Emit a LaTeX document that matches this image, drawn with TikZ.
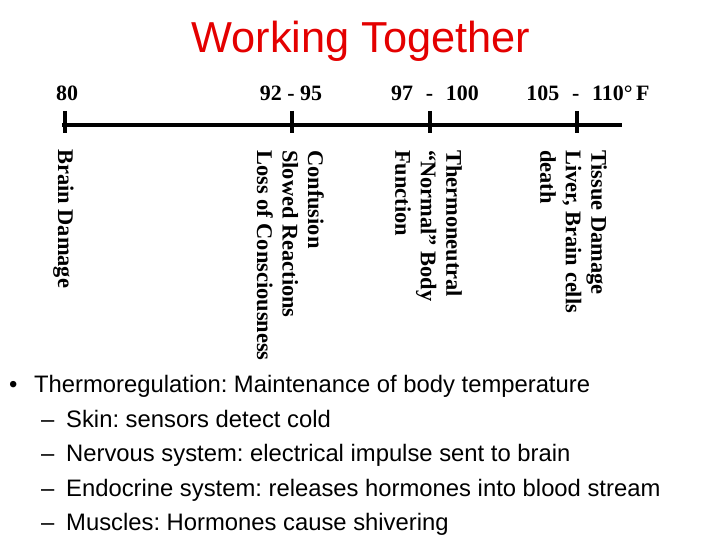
\documentclass[tikz,border=0pt]{standalone}
\usepackage{fontspec}
\setmainfont{Liberation Sans}
\newfontfamily\timesbold[BoldFont={Liberation Serif Bold}]{Liberation Serif}
\frenchspacing
\definecolor{titlered}{RGB}{228,0,0}
\begin{document}
\begin{tikzpicture}[x=1bp,y=-1bp,
  titlestyle/.style={inner sep=0, anchor=base, text=titlered, font=\fontsize{43.5}{48}\selectfont},
  tlabel/.style={inner sep=0, anchor=base, font=\timesbold\bfseries\fontsize{22}{25}\selectfont},
  vtext/.style={inner sep=0, anchor=north west, rotate=-90, align=left, font=\timesbold\bfseries\fontsize{22.5}{25.5}\selectfont},
  axisline/.style={line width=4bp, black},
  tickline/.style={line width=4bp, black},
  bodytext/.style={inner sep=0, anchor=base west, font=\fontsize{23.9}{28}\selectfont}
]
\useasboundingbox (0,0) rectangle (720,540);
\fill[white] (0,0) rectangle (720,540);

\node[titlestyle] (title) at (361,53) {Working Together};

% timeline labels
\node[tlabel] (l80) at (67,101) {80};
\node[tlabel] (l92) at (291,101) {92 - 95};
\node[tlabel] (l97) at (435,101) {97\,\, - \,\,100};
\node[tlabel] (l105) at (588,101) {105\,\, - \,\,110°\,F};

% axis
\coordinate (a0) at (62,125);
\coordinate (a1) at (622,125);
\draw[axisline] (a0) -- (a1);
\coordinate (t1a) at (65,111); \coordinate (t1b) at (65,133);
\coordinate (t2a) at (292,111); \coordinate (t2b) at (292,133);
\coordinate (t3a) at (430,111); \coordinate (t3b) at (430,133);
\coordinate (t4a) at (577,111); \coordinate (t4b) at (577,133);
\draw[tickline] (t1a) -- (t1b);
\draw[tickline] (t2a) -- (t2b);
\draw[tickline] (t3a) -- (t3b);
\draw[tickline] (t4a) -- (t4b);

% rotated descriptions
\node[vtext] (v1) at (74,149) {Brain Damage};
\node[vtext] (v2) at (324,150) {Confusion\\Slowed Reactions\\Loss of Consciousness};
\node[vtext] (v3) at (462,150) {Thermoneutral\\“Normal” Body\\Function};
\node[vtext] (v4) at (607,150) {Tissue Damage\\Liver, Brain cells\\death};

% bullet text
\node[bodytext] (b0) at (9,392) {•};
\node[bodytext] (b1) at (34,392) {Thermoregulation: Maintenance of body temperature};
\node[bodytext] (d2) at (41,427) {–};
\node[bodytext] (b2) at (66,427) {Skin: sensors detect cold};
\node[bodytext] (d3) at (41,461) {–};
\node[bodytext] (b3) at (66,461) {Nervous system: electrical impulse sent to brain};
\node[bodytext] (d4) at (41,496) {–};
\node[bodytext] (b4) at (66,496) {Endocrine system: releases hormones into blood stream};
\node[bodytext] (d5) at (41,530) {–};
\node[bodytext] (b5) at (66,530) {Muscles: Hormones cause shivering};
\end{tikzpicture}
\end{document}
